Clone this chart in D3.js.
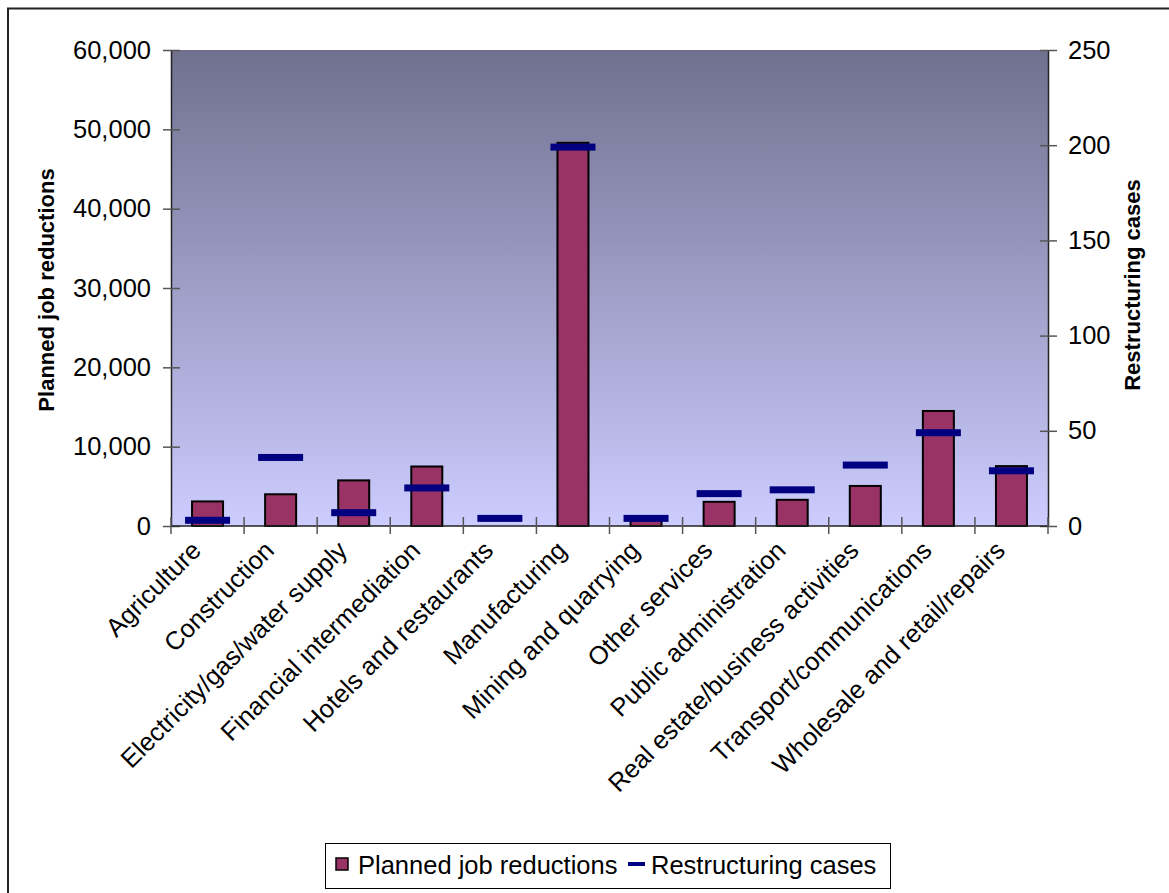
<!DOCTYPE html>
<html>
<head>
<meta charset="utf-8">
<script src="https://cdn.jsdelivr.net/npm/d3@7"></script>
<style>
  html, body { margin: 0; padding: 0; background: #fff; }
  svg { display: block; font-family: "Liberation Sans", Arial, sans-serif; }
</style>
</head>
<body>
<svg id="chart" width="1169" height="893"></svg>
<script>
// Sectors, in display order
const categories = [
  "Agriculture",
  "Construction",
  "Electricity/gas/water supply",
  "Financial intermediation",
  "Hotels and restaurants",
  "Manufacturing",
  "Mining and quarrying",
  "Other services",
  "Public administration",
  "Real estate/business activities",
  "Transport/communications",
  "Wholesale and retail/repairs"
];
// Planned job reductions (left axis)
const jobReductions = [3100, 4000, 5750, 7500, 0, 48300, 800, 3050, 3300, 5050, 14500, 7550];
// Restructuring cases (right axis)
const restructuringCases = [3, 36, 7, 20, 4, 199, 4, 17, 19, 32, 49, 29];
// Axis ticks
const leftTicks = [0, 10000, 20000, 30000, 40000, 50000, 60000];
const rightTicks = [0, 50, 100, 150, 200, 250];

const svg = d3.select("#chart");
const plot = { left: 171, right: 1048, top: 50, bottom: 526 };
const FONT = 25.5;

// Outer chart border
svg.append("rect")
  .attr("x", 8).attr("y", 8.5)
  .attr("width", 1200).attr("height", 1000)
  .attr("fill", "none").attr("stroke", "#222").attr("stroke-width", 2);

// Plot area background gradient
const defs = svg.append("defs");
const grad = defs.append("linearGradient")
  .attr("id", "bg").attr("x1", 0).attr("y1", 0).attr("x2", 0).attr("y2", 1);
grad.append("stop").attr("offset", "0%").attr("stop-color", "#70708f");
grad.append("stop").attr("offset", "100%").attr("stop-color", "#CCCCFF");
svg.append("rect")
  .attr("x", plot.left).attr("y", plot.top)
  .attr("width", plot.right - plot.left).attr("height", plot.bottom - plot.top)
  .attr("fill", "url(#bg)");

const x = d3.scaleBand().domain(categories).range([plot.left, plot.right]).padding(0);
const yLeft = d3.scaleLinear().domain([0, 60000]).range([plot.bottom, plot.top]);
const yRight = d3.scaleLinear().domain([0, 250]).range([plot.bottom, plot.top]);

// Bars
const barW = 31;
svg.append("g").selectAll("rect")
  .data(categories.map((c, i) => ({ c, v: jobReductions[i] })).filter(d => d.v > 0))
  .join("rect")
  .attr("x", d => x(d.c) + x.bandwidth() / 2 - barW / 2)
  .attr("y", d => yLeft(d.v))
  .attr("width", barW)
  .attr("height", d => yLeft(0) - yLeft(d.v))
  .attr("fill", "#993366")
  .attr("stroke", "#000").attr("stroke-width", 2);

// Axes
const fmt = d3.format(",");
const leftAxis = svg.append("g")
  .attr("transform", `translate(${plot.left},0)`)
  .call(d3.axisLeft(yLeft).tickValues(leftTicks).tickFormat(fmt).tickSize(0).tickPadding(20));
const rightAxis = svg.append("g")
  .attr("transform", `translate(${plot.right},0)`)
  .call(d3.axisRight(yRight).tickValues(rightTicks).tickSize(0).tickPadding(20));
[leftAxis, rightAxis].forEach(g => {
  g.select(".domain").attr("stroke", "#222").attr("stroke-width", 1.5);
  g.selectAll("text").attr("font-size", FONT).attr("fill", "#000")
    .attr("font-family", "'Liberation Sans', Arial, sans-serif");
});
// Cross tick marks
leftAxis.selectAll(".tick").append("line")
  .attr("x1", -8).attr("x2", 9).attr("stroke", "#555").attr("stroke-width", 1.5);
rightAxis.selectAll(".tick").append("line")
  .attr("x1", -8).attr("x2", 9).attr("stroke", "#555").attr("stroke-width", 1.5);

// Category axis
const bottomAxis = svg.append("g").attr("transform", `translate(0,${plot.bottom})`);
bottomAxis.append("line")
  .attr("x1", plot.left).attr("x2", plot.right)
  .attr("stroke", "#222").attr("stroke-width", 1.5);
bottomAxis.selectAll("line.tick")
  .data(categories.map(c => x(c)).concat([plot.right]))
  .join("line").attr("class", "tick")
  .attr("x1", d => d).attr("x2", d => d)
  .attr("y1", -9).attr("y2", 8)
  .attr("stroke", "#555").attr("stroke-width", 1.5);
bottomAxis.selectAll("text")
  .data(categories)
  .join("text")
  .attr("transform", c => `translate(${x(c) + x.bandwidth() / 2 - 5},${26}) rotate(-45)`)
  .attr("text-anchor", "end")
  .attr("font-size", FONT)
  .text(c => c);

// Restructuring case markers
svg.append("g").selectAll("rect")
  .data(categories.map((c, i) => ({ c, v: restructuringCases[i] })))
  .join("rect")
  .attr("x", d => x(d.c) + x.bandwidth() / 2 - 22.5)
  .attr("y", d => yRight(d.v) - 3.5)
  .attr("width", 45).attr("height", 7)
  .attr("fill", "#000080");

// Axis titles
svg.append("text")
  .attr("transform", `translate(54,290) rotate(-90)`)
  .attr("text-anchor", "middle")
  .attr("font-size", 22).attr("font-weight", "bold")
  .text("Planned job reductions");
svg.append("text")
  .attr("transform", `translate(1140,285) rotate(-90)`)
  .attr("text-anchor", "middle")
  .attr("font-size", 22).attr("font-weight", "bold")
  .text("Restructuring cases");

// Legend
const legend = svg.append("g");
legend.append("rect")
  .attr("x", 325.5).attr("y", 843.5).attr("width", 565).attr("height", 45)
  .attr("fill", "#fff").attr("stroke", "#000").attr("stroke-width", 1);
legend.append("rect")
  .attr("x", 336).attr("y", 858).attr("width", 12).attr("height", 12)
  .attr("fill", "#993366").attr("stroke", "#000").attr("stroke-width", 1.5);
legend.append("text")
  .attr("x", 358).attr("y", 874).attr("font-size", FONT)
  .text("Planned job reductions");
legend.append("rect")
  .attr("x", 628).attr("y", 862).attr("width", 17).attr("height", 4)
  .attr("fill", "#000080");
legend.append("text")
  .attr("x", 651).attr("y", 874).attr("font-size", FONT)
  .text("Restructuring cases");
</script>
</body>
</html>
